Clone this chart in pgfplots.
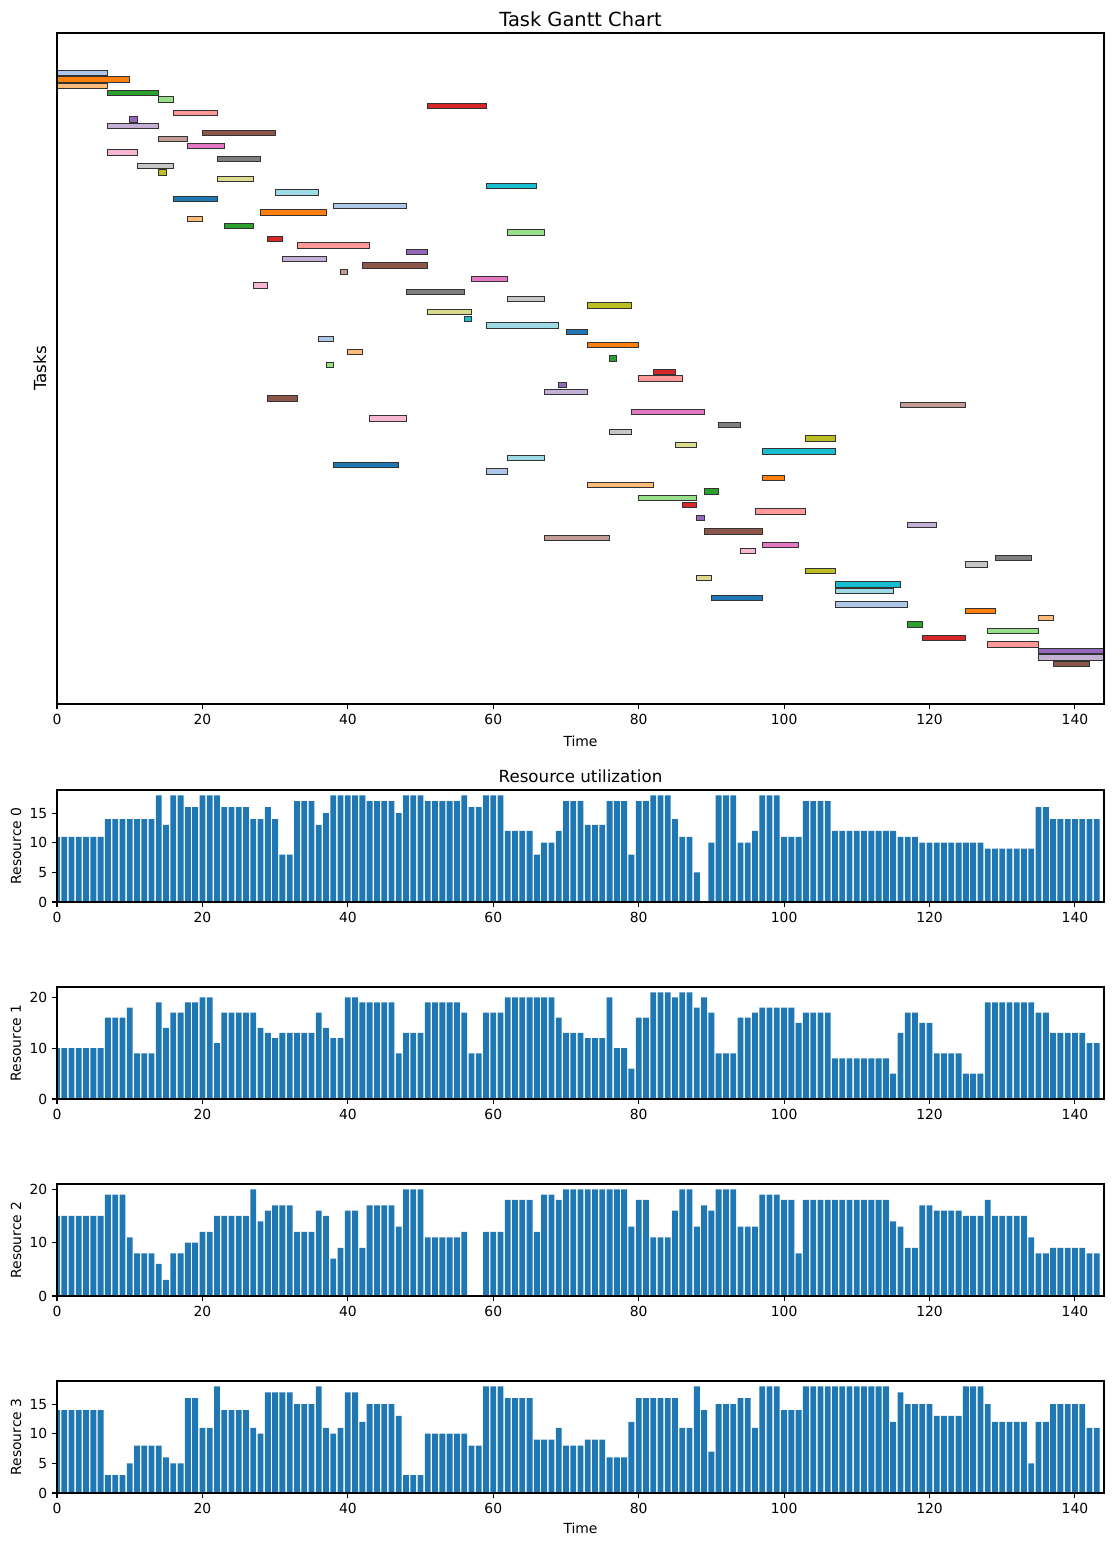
\documentclass[border=0pt]{standalone}
\usepackage{pgfplots}
\usepackage{pgfplotstable}
\pgfplotsset{compat=1.18}
\usepackage{fontspec}
\setmainfont{DejaVu Sans}

\definecolor{tc0}{HTML}{1F77B4}
\definecolor{tc1}{HTML}{AEC7E8}
\definecolor{tc2}{HTML}{FF7F0E}
\definecolor{tc3}{HTML}{FFBB78}
\definecolor{tc4}{HTML}{2CA02C}
\definecolor{tc5}{HTML}{98DF8A}
\definecolor{tc6}{HTML}{D62728}
\definecolor{tc7}{HTML}{FF9896}
\definecolor{tc8}{HTML}{9467BD}
\definecolor{tc9}{HTML}{C5B0D5}
\definecolor{tc10}{HTML}{8C564B}
\definecolor{tc11}{HTML}{C49C94}
\definecolor{tc12}{HTML}{E377C2}
\definecolor{tc13}{HTML}{F7B6D2}
\definecolor{tc14}{HTML}{7F7F7F}
\definecolor{tc15}{HTML}{C7C7C7}
\definecolor{tc16}{HTML}{BCBD22}
\definecolor{tc17}{HTML}{DBDB8D}
\definecolor{tc18}{HTML}{17BECF}
\definecolor{tc19}{HTML}{9EDAE5}

\pgfplotstableread{
t r0 r1 r2 r3
0 11 10 15 14
1 11 10 15 14
2 11 10 15 14
3 11 10 15 14
4 11 10 15 14
5 11 10 15 14
6 11 10 15 14
7 14 16 19 3
8 14 16 19 3
9 14 16 19 3
10 14 18 11 5
11 14 9 8 8
12 14 9 8 8
13 14 9 8 8
14 18 19 6 8
15 13 14 3 6
16 18 17 8 5
17 18 17 8 5
18 16 19 10 16
19 16 19 10 16
20 18 20 12 11
21 18 20 12 11
22 18 11 15 18
23 16 17 15 14
24 16 17 15 14
25 16 17 15 14
26 16 17 15 14
27 14 17 20 11
28 14 14 14 10
29 16 13 16 17
30 14 12 17 17
31 8 13 17 17
32 8 13 17 17
33 17 13 12 15
34 17 13 12 15
35 17 13 12 15
36 13 17 16 18
37 15 14 15 11
38 18 12 7 10
39 18 12 9 11
40 18 20 16 17
41 18 20 16 17
42 18 19 9 12
43 17 19 17 15
44 17 19 17 15
45 17 19 17 15
46 17 19 17 15
47 15 9 13 13
48 18 13 20 3
49 18 13 20 3
50 18 13 20 3
51 17 19 11 10
52 17 19 11 10
53 17 19 11 10
54 17 19 11 10
55 17 19 11 10
56 18 17 12 10
57 16 9 0 8
58 16 9 0 8
59 18 17 12 18
60 18 17 12 18
61 18 17 12 18
62 12 20 18 16
63 12 20 18 16
64 12 20 18 16
65 12 20 18 16
66 8 20 12 9
67 10 20 19 9
68 10 20 19 9
69 12 16 18 11
70 17 13 20 8
71 17 13 20 8
72 17 13 20 8
73 13 12 20 9
74 13 12 20 9
75 13 12 20 9
76 17 20 20 6
77 17 10 20 6
78 17 10 20 6
79 8 6 13 12
80 17 16 18 16
81 17 16 18 16
82 18 21 11 16
83 18 21 11 16
84 18 21 11 16
85 14 20 16 16
86 11 21 20 11
87 11 21 20 11
88 5 18 13 18
89 0 20 17 14
90 10 17 16 7
91 18 9 20 15
92 18 9 20 15
93 18 9 20 15
94 10 16 13 16
95 10 16 13 16
96 12 17 13 11
97 18 18 19 18
98 18 18 19 18
99 18 18 19 18
100 11 18 18 14
101 11 18 18 14
102 11 15 8 14
103 17 17 18 18
104 17 17 18 18
105 17 17 18 18
106 17 17 18 18
107 12 8 18 18
108 12 8 18 18
109 12 8 18 18
110 12 8 18 18
111 12 8 18 18
112 12 8 18 18
113 12 8 18 18
114 12 8 18 18
115 12 5 14 12
116 11 13 13 17
117 11 17 9 15
118 11 17 9 15
119 10 15 17 15
120 10 15 17 15
121 10 9 16 13
122 10 9 16 13
123 10 9 16 13
124 10 9 16 13
125 10 5 15 18
126 10 5 15 18
127 10 5 15 18
128 9 19 18 15
129 9 19 15 12
130 9 19 15 12
131 9 19 15 12
132 9 19 15 12
133 9 19 15 12
134 9 19 11 5
135 16 17 8 12
136 16 17 8 12
137 14 13 9 15
138 14 13 9 15
139 14 13 9 15
140 14 13 9 15
141 14 13 9 15
142 14 11 8 11
143 14 11 8 11
}\restable

% task: id, start, end
\newcommand{\task}[3]{%
  \pgfmathtruncatemacro{\ci}{mod(#1,20)}%
  \pgfmathsetmacro{\ya}{#1-0.4}%
  \pgfmathsetmacro{\yb}{#1+0.4}%
  \edef\tmp{\noexpand\addplot[fill=tc\ci, draw=black!80, line width=0.6pt] coordinates {(#2,\ya) (#3,\ya) (#3,\yb) (#2,\yb)} --cycle;}%
  \tmp}

\pgfplotsset{
  common/.style={
    scale only axis, width=753.84pt, xmin=0, xmax=144,
    axis on top,
    xtick={0,20,...,140}, tick align=outside, major tick length=3.5pt,
    tick pos=left,
    tick label style={font=\fontsize{10}{12}\selectfont},
    /pgf/number format/assume math mode=true,
    axis line style={line width=0.8pt},
    major tick style={line width=0.8pt, black},
    label style={font=\fontsize{10}{12}\selectfont},
  },
  res/.style={
    common, height=80.64pt, ybar, bar width=0.8, ymin=0,
    ylabel style={at={(axis description cs:-0.0392,0.5)}, anchor=center},
  },
}

\begin{document}
\begin{tikzpicture}
\path[use as bounding box] (0,0) rectangle (801.36pt,1113.12pt);

\begin{axis}[common, at={(41.04pt,606.24pt)}, anchor=south west,
  height=483.12pt, ymin=-4.99, ymax=95.99, y dir=reverse, ytick=\empty,
  title={Task Gantt Chart},
  title style={font=\fontsize{14}{17}\selectfont, at={(axis description cs:0.5,1.0209)}, anchor=center, yshift=-6pt},
  xlabel={Time},
  xlabel style={at={(axis description cs:0.5,-0.0551)}, anchor=center},
  ylabel={Tasks},
  ylabel style={font=\fontsize{12}{14}\selectfont, at={(axis description cs:-0.0162,0.5)}, anchor=center},
]
\task{1}{0}{7}
\task{2}{0}{10}
\task{3}{0}{7}
\task{4}{7}{14}
\task{5}{14}{16}
\task{6}{51}{59}
\task{7}{16}{22}
\task{8}{10}{11}
\task{9}{7}{14}
\task{10}{20}{30}
\task{11}{14}{18}
\task{12}{18}{23}
\task{13}{7}{11}
\task{14}{22}{28}
\task{15}{11}{16}
\task{16}{14}{15}
\task{17}{22}{27}
\task{18}{59}{66}
\task{19}{30}{36}
\task{20}{16}{22}
\task{21}{38}{48}
\task{22}{28}{37}
\task{23}{18}{20}
\task{24}{23}{27}
\task{25}{62}{67}
\task{26}{29}{31}
\task{27}{33}{43}
\task{28}{48}{51}
\task{29}{31}{37}
\task{30}{42}{51}
\task{31}{39}{40}
\task{32}{57}{62}
\task{33}{27}{29}
\task{34}{48}{56}
\task{35}{62}{67}
\task{36}{73}{79}
\task{37}{51}{57}
\task{38}{56}{57}
\task{39}{59}{69}
\task{40}{70}{73}
\task{41}{36}{38}
\task{42}{73}{80}
\task{43}{40}{42}
\task{44}{76}{77}
\task{45}{37}{38}
\task{46}{82}{85}
\task{47}{80}{86}
\task{48}{69}{70}
\task{49}{67}{73}
\task{50}{29}{33}
\task{51}{116}{125}
\task{52}{79}{89}
\task{53}{43}{48}
\task{54}{91}{94}
\task{55}{76}{79}
\task{56}{103}{107}
\task{57}{85}{88}
\task{58}{97}{107}
\task{59}{62}{67}
\task{60}{38}{47}
\task{61}{59}{62}
\task{62}{97}{100}
\task{63}{73}{82}
\task{64}{89}{91}
\task{65}{80}{88}
\task{66}{86}{88}
\task{67}{96}{103}
\task{68}{88}{89}
\task{69}{117}{121}
\task{70}{89}{97}
\task{71}{67}{76}
\task{72}{97}{102}
\task{73}{94}{96}
\task{74}{129}{134}
\task{75}{125}{128}
\task{76}{103}{107}
\task{77}{88}{90}
\task{78}{107}{116}
\task{79}{107}{115}
\task{80}{90}{97}
\task{81}{107}{117}
\task{82}{125}{129}
\task{83}{135}{137}
\task{84}{117}{119}
\task{85}{128}{135}
\task{86}{119}{125}
\task{87}{128}{135}
\task{88}{135}{144}
\task{89}{135}{144}
\task{90}{137}{142}
\end{axis}

\begin{axis}[res, at={(41.04pt,463.68pt)}, anchor=south west,
  ymax=18.9, ytick={0,5,10,15}, ylabel={Resource 0},
  title={Resource utilization},
  title style={font=\fontsize{12}{14}\selectfont, at={(axis description cs:0.5,1.125)}, anchor=center, yshift=-6pt},
]
\addplot[fill=tc0, draw=none] table[x=t, y=r0] {\restable};
\end{axis}

\begin{axis}[res, at={(41.04pt,321.84pt)}, anchor=south west,
  ymax=22.05, ytick={0,10,20}, ylabel={Resource 1}]
\addplot[fill=tc0, draw=none] table[x=t, y=r1] {\restable};
\end{axis}

\begin{axis}[res, at={(41.04pt,180pt)}, anchor=south west,
  ymax=21, ytick={0,10,20}, ylabel={Resource 2}]
\addplot[fill=tc0, draw=none] table[x=t, y=r2] {\restable};
\end{axis}

\begin{axis}[res, at={(41.04pt,38.16pt)}, anchor=south west,
  ymax=18.9, ytick={0,5,10,15}, ylabel={Resource 3},
  xlabel={Time},
  xlabel style={at={(axis description cs:0.5,-0.3125)}, anchor=center},
]
\addplot[fill=tc0, draw=none] table[x=t, y=r3] {\restable};
\end{axis}
\end{tikzpicture}
\end{document}
